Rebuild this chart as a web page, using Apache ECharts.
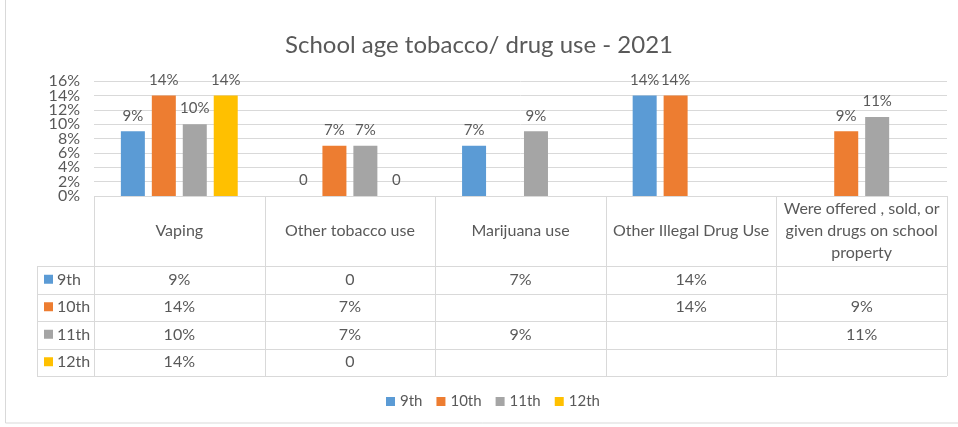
<!DOCTYPE html>
<html><head><meta charset="utf-8">
<script src="https://cdn.jsdelivr.net/npm/echarts@6/dist/echarts.min.js"></script>
<style>html,body{margin:0;padding:0;background:#fff}#c{width:958px;height:427px}</style>
</head><body><div id="c"></div>
<script>
var categories = ['Vaping', 'Other tobacco use', 'Marijuana use', 'Other Illegal Drug Use', 'Were offered , sold, or\ngiven drugs on school\nproperty'];
var seriesNames = ['9th', '10th', '11th', '12th'];
var grade9 = [9, 0, 7, 14, null];
var grade10 = [14, 7, null, 14, 9];
var grade11 = [10, 7, 9, null, 11];
var grade12 = [14, 0, null, null, null];
var yTicks = [0, 2, 4, 6, 8, 10, 12, 14, 16];

var colors = ['#5B9BD5', '#ED7D31', '#A5A5A5', '#FFC000'];
var allData = [grade9, grade10, grade11, grade12];
var FONT = 'Lato, "Open Sans", sans-serif';
var TXT = '#595959';
function fmt(v) { return v == null ? '' : (v === 0 ? '0' : v + '%'); }

var chart = echarts.init(document.getElementById('c'), null, {renderer: 'canvas'});
var gridL = 94, gridR = 11, gridT = 81, gridB = 231;
var option = {
  animation: false,
  color: colors,
  textStyle: {fontFamily: FONT},
  title: {text: 'School age tobacco/ drug use - 2021', left: 'center', top: 28,
    textStyle: {fontFamily: FONT, fontSize: 24, fontWeight: 'normal', color: TXT}},
  legend: {data: seriesNames, bottom: 13, left: 381, itemWidth: 9, itemHeight: 9, itemGap: 14,
    icon: 'rect', textStyle: {fontFamily: FONT, fontSize: 15, color: TXT}},
  grid: {left: gridL, right: gridR, top: gridT, bottom: gridB},
  xAxis: {type: 'category', data: categories, axisLabel: {show: false}, axisTick: {show: false},
    axisLine: {show: false}},
  yAxis: {type: 'value', min: yTicks[0], max: yTicks[yTicks.length - 1], interval: 2,
    axisLabel: {show: false},
    splitLine: {lineStyle: {color: '#d9d9d9'}}, axisLine: {show: false}, axisTick: {show: false}},
  series: seriesNames.map(function (n, i) {
    return {name: n, type: 'bar', data: allData[i], barGap: '29%', barCategoryGap: '31.5%',
      label: {show: true, position: 'top', distance: 8, fontFamily: FONT, fontSize: 15, color: TXT,
        formatter: function (p) { return fmt(p.value); }}};
  })
};
chart.setOption(option);

var g = [];
// y tick labels (all shown, tightly packed like the original)
yTicks.forEach(function (t) {
  var py = chart.convertToPixel({yAxisIndex: 0}, t);
  g.push({type: 'text', x: gridL - 14, y: py,
    style: {text: t + '%', fill: TXT, font: '16px ' + FONT, align: 'right', verticalAlign: 'middle'}});
});

// data table beneath the plot
var centers = categories.map(function (c, i) { return chart.convertToPixel({xAxisIndex: 0}, i); });
var band = centers[1] - centers[0];
var y0 = chart.convertToPixel({yAxisIndex: 0}, 0);
var headerH = 70, rowH = 27.5, leftCol = 37;
var xL = centers[0] - band / 2, xR = centers[centers.length - 1] + band / 2;
var lineStyle = {stroke: '#d9d9d9', lineWidth: 1};
var bottomY = y0 + headerH + rowH * seriesNames.length;
for (var i = 0; i <= categories.length; i++) {
  var x = Math.round(xL + band * i) + 0.5;
  g.push({type: 'line', shape: {x1: x, y1: y0, x2: x, y2: bottomY}, style: lineStyle, silent: true});
}
g.push({type: 'line', shape: {x1: leftCol + 0.5, y1: y0 + headerH, x2: leftCol + 0.5, y2: bottomY}, style: lineStyle});
g.push({type: 'line', shape: {x1: xL, y1: Math.round(y0) + 0.5, x2: xR, y2: Math.round(y0) + 0.5}, style: lineStyle});
for (var r = 0; r <= seriesNames.length; r++) {
  var y = Math.round(y0 + headerH + rowH * r) + 0.5;
  g.push({type: 'line', shape: {x1: leftCol, y1: y, x2: xR, y2: y}, style: lineStyle});
}
categories.forEach(function (c, i) {
  g.push({type: 'text', x: centers[i], y: y0 + headerH / 2,
    style: {text: c, fill: TXT, font: '16px ' + FONT, align: 'center', verticalAlign: 'middle', lineHeight: 22}});
});
seriesNames.forEach(function (n, r) {
  var cy = y0 + headerH + rowH * r + rowH / 2;
  g.push({type: 'rect', shape: {x: 44, y: cy - 5, width: 9, height: 9}, style: {fill: colors[r]}});
  g.push({type: 'text', x: 57, y: cy, style: {text: n, fill: TXT, font: '16px ' + FONT, align: 'left', verticalAlign: 'middle'}});
  allData[r].forEach(function (v, i) {
    g.push({type: 'text', x: centers[i], y: cy,
      style: {text: fmt(v), fill: TXT, font: '16px ' + FONT, align: 'center', verticalAlign: 'middle'}});
  });
});
g.push({type: 'rect', shape: {x: 5.5, y: -2, width: 960, height: 425}, style: {fill: 'none', stroke: '#d9d9d9', lineWidth: 1}});
chart.setOption({graphic: g});
</script>
</body></html>
